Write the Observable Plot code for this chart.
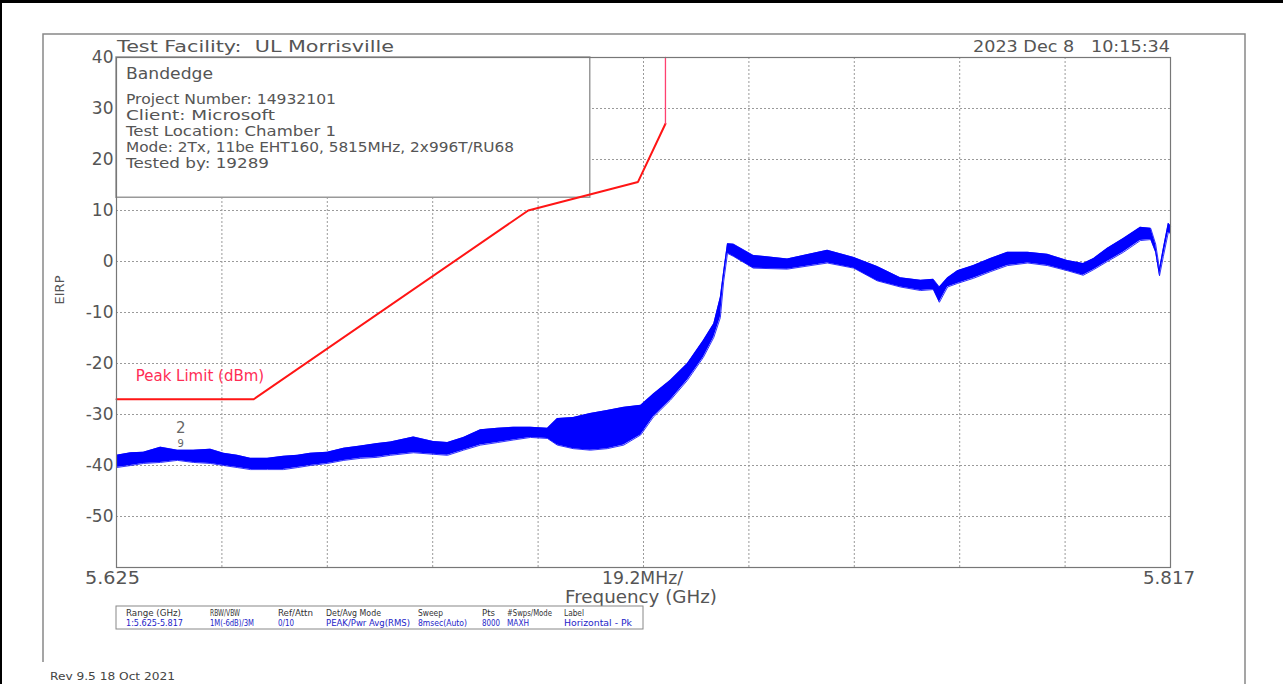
<!DOCTYPE html>
<html><head><meta charset="utf-8">
<script src="https://cdn.jsdelivr.net/npm/d3@7"></script>
<script src="https://cdn.jsdelivr.net/npm/@observablehq/plot@0.6"></script>
<style>html,body{margin:0;padding:0;background:#fff;overflow:hidden}</style>
</head><body><div id="chart"></div>
<script>
// Measured trace envelope (frequency in MHz, EIRP in dBm)
const traceF  = [5625.0,5627.6,5629.9,5633.0,5636.1,5639.0,5642.1,5644.5,5647.0,5649.4,5652.5,5655.4,5658.0,5660.3,5663.4,5666.4,5669.4,5672.5,5674.9,5679.1,5682.7,5685.3,5688.2,5691.3,5694.4,5697.3,5700.4,5703.5,5705.3,5708.2,5711.3,5714.4,5717.4,5720.5,5722.8,5725.9,5729.0,5731.9,5733.8,5735.0,5735.6,5736.3,5737.4,5741.0,5747.2,5754.5,5759.3,5763.6,5767.8,5771.5,5773.8,5774.9,5776.4,5778.2,5781.1,5784.2,5787.3,5791.0,5794.6,5798.2,5801.1,5803.0,5805.5,5808.4,5811.5,5813.4,5814.3,5815.0,5815.7,5816.6,5817.0];
const traceLo = [-40.4,-40.0,-39.6,-39.4,-39.0,-39.4,-39.6,-40.0,-40.4,-40.8,-40.8,-40.8,-40.4,-40.0,-39.6,-39.0,-38.6,-38.4,-38.0,-37.5,-37.8,-38.0,-37.0,-36.0,-35.5,-35.0,-34.5,-34.7,-36.0,-36.7,-37.0,-36.7,-36.0,-34.0,-30.5,-27.2,-23.3,-18.8,-14.9,-11.0,-4.0,1.6,1.0,-1.3,-1.5,-0.3,-1.3,-3.8,-5.0,-5.7,-5.5,-8.0,-5.0,-4.3,-3.3,-2.0,-0.8,-0.3,-0.8,-1.8,-2.7,-1.6,0.0,1.8,4.1,4.3,1.8,-2.8,1.0,5.7,5.5];
const traceHi = [-38.0,-37.5,-37.4,-36.4,-37.0,-37.0,-36.8,-37.6,-38.0,-38.6,-38.6,-38.2,-38.0,-37.6,-37.4,-36.6,-36.2,-35.7,-35.4,-34.4,-35.3,-35.5,-34.5,-33.0,-32.7,-32.5,-32.5,-32.7,-30.8,-30.6,-29.8,-29.2,-28.6,-28.2,-26.0,-23.3,-20.0,-15.5,-12.2,-7.0,-2.0,3.5,3.4,1.2,0.5,2.2,0.8,-1.0,-3.2,-3.7,-3.5,-5.0,-3.2,-1.8,-0.8,0.6,1.8,1.8,1.4,0.2,-0.4,0.6,2.6,4.5,6.7,6.5,3.4,-1.5,2.6,7.5,7.0];
// Peak limit (dBm)
const limitF = [5625, 5650, 5700, 5720, 5725, 5725];
const limitV = [-27, -27, 10, 15.6, 27, 40];
// Axis ticks / grid
const gridF  = [5644.2, 5663.4, 5682.6, 5701.8, 5721.0, 5740.2, 5759.4, 5778.6, 5797.8];
const gridY  = [30, 20, 10, 0, -10, -20, -30, -40, -50];
const yTicks = [40, 30, 20, 10, 0, -10, -20, -30, -40, -50];
const xEdgeLabels = ["5.625", "19.2MHz/", "5.817"];
// Info text
const infoLines = ["Project Number: 14932101", "Client: Microsoft", "Test Location: Chamber 1", "Mode: 2Tx, 11be EHT160, 5815MHz, 2x996T/RU68", "Tested by: 19289"];
const tableHead = ["Range (GHz)", "RBW/VBW", "Ref/Attn", "Det/Avg Mode", "Sweep", "Pts", "#Swps/Mode", "Label"];
const tableVals = ["1:5.625-5.817", "1M(-6dB)/3M", "0/10", "PEAK/Pwr Avg(RMS)", "8msec(Auto)", "8000", "MAXH", "Horizontal - Pk"];

const trace = traceF.map((f, i) => ({f, lo: traceLo[i], hi: traceHi[i]}));
const limit = limitF.map((f, i) => ({f, v: limitV[i]}));
const box = [{x1: 5625, x2: 5711.3, y1: 12.5, y2: 40}];
const FONT = "'DejaVu Sans', sans-serif";
const COND = "'DejaVu Sans Condensed', 'DejaVu Sans', sans-serif";

const plot = Plot.plot({
  width: 1283, height: 684,
  marginLeft: 116, marginRight: 113, marginTop: 57, marginBottom: 117,
  x: {domain: [5625, 5817], axis: null},
  y: {domain: [-60, 40], axis: null},
  style: {background: "#fff", overflow: "visible", fontFamily: FONT},
  marks: [
    Plot.ruleX(gridF, {stroke: "#9a9a9a", strokeDasharray: "2,2"}),
    Plot.ruleY(gridY, {stroke: "#9a9a9a", strokeDasharray: "2,2"}),
    Plot.rect(box, {x1: "x1", x2: "x2", y1: "y1", y2: "y2", fill: "#fff", stroke: "#999", strokeWidth: 1.5}),
    Plot.line(limit.slice(0, 5), {x: "f", y: "v", stroke: "#ff1515", strokeWidth: 2}),
    Plot.line(limit.slice(4), {x: "f", y: "v", stroke: "#ff4070", strokeWidth: 1.3}),
    Plot.areaY(trace, {x: "f", y1: "lo", y2: "hi", fill: "#0000ff"}),
    Plot.line(trace, {x: "f", y: "lo", stroke: "#0000ff", strokeWidth: 0.8}),
    Plot.line(trace, {x: "f", y: "hi", stroke: "#0000ff", strokeWidth: 0.8}),
    Plot.frame({stroke: "#777", strokeWidth: 1.2}),
    Plot.text(yTicks, {x: 5625, y: d => d, dx: -3, textAnchor: "end", fontSize: 17, fill: "#555"}),
    Plot.text(["Peak Limit (dBm)"], {x: 5628.5, y: -22.5, textAnchor: "start", fontSize: 15, fill: "#ff2d55"}),
    Plot.text(["2"], {x: 5636.7, y: -32.7, fontSize: 15, fill: "#666"}),
    Plot.text(["9"], {x: 5636.7, y: -35.8, fontSize: 10, fill: "#666"})
  ]
});
document.getElementById("chart").appendChild(plot);

const svg = d3.select(plot);
const g = svg.append("g").attr("font-family", FONT).attr("text-anchor", "start");
function txt(s, x, y, size, fill, len, anchor) {
  const t = g.append("text").attr("x", x).attr("y", y).attr("font-size", size)
    .attr("fill", fill).attr("text-anchor", anchor || "start").style("white-space", "pre").text(s);
  if (len) t.attr("textLength", len).attr("lengthAdjust", "spacingAndGlyphs");
  return t;
}
// page borders
g.append("rect").attr("x", 0).attr("y", 0).attr("width", 1283).attr("height", 3).attr("fill", "#000");
g.append("rect").attr("x", 0).attr("y", 0).attr("width", 2).attr("height", 684).attr("fill", "#000");
g.append("path").attr("d", "M43,662V34H1245V684").attr("fill", "none").attr("stroke", "#888").attr("stroke-width", 1.5);

txt("Test Facility:  UL Morrisville", 117, 52, 15, "#555", 277);
txt("2023 Dec 8   10:15:34", 973, 52, 15, "#555", 197);
txt("Bandedge", 126, 79, 16, "#555", 87);
const lens = [210, 149, 210, 388, 143];
const ys = [104, 120, 136, 152, 168];
infoLines.forEach((s, i) => txt(s, 126, ys[i], 14.5, "#555", lens[i]));

txt(xEdgeLabels[0], 85, 584, 17, "#555", 55);
txt(xEdgeLabels[1], 602, 584, 17, "#555", 81);
txt(xEdgeLabels[2], 1143, 584, 17, "#555", 52);
txt("Frequency (GHz)", 565, 603, 17, "#555", 152);
g.append("text").attr("transform", "translate(64,290) rotate(-90)").attr("text-anchor", "middle")
  .attr("font-size", 13).attr("fill", "#555").text("EIRP");

// settings table
g.append("rect").attr("x", 116).attr("y", 606).attr("width", 527).attr("height", 23)
  .attr("fill", "#fff").attr("stroke", "#888").attr("stroke-width", 1);
const colX = [126, 210, 278, 326, 418, 482, 507, 564];
const headLen = [55, 30, 35, 55, 25, 13, 45, 20];
const valLen = [57, 44, 16, 84, 49, 18, 22, 68];
tableHead.forEach((s, i) => txt(s, colX[i], 616, 8.5, "#333", headLen[i]).attr("font-family", COND));
tableVals.forEach((s, i) => txt(s, colX[i], 626, 8.5, "#2424c8", valLen[i]).attr("font-family", COND));

txt("Rev 9.5 18 Oct 2021", 50, 680, 11, "#444", 125);
</script></body></html>
